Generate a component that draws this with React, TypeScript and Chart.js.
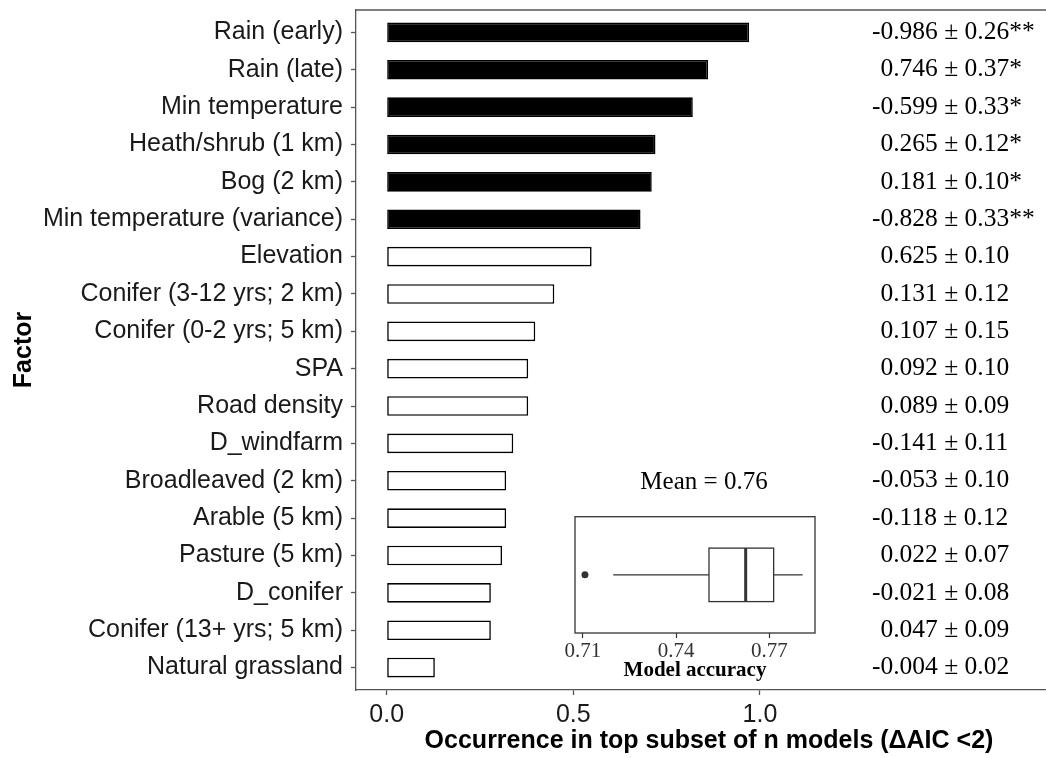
import React, { useEffect, useRef } from "react";
import { Chart, registerables } from "chart.js";

Chart.register(...registerables);

// ---------- Data ----------
const factors = [
  "Rain (early)",
  "Rain (late)",
  "Min temperature",
  "Heath/shrub (1 km)",
  "Bog (2 km)",
  "Min temperature (variance)",
  "Elevation",
  "Conifer (3-12 yrs; 2 km)",
  "Conifer (0-2 yrs; 5 km)",
  "SPA",
  "Road density",
  "D_windfarm",
  "Broadleaved (2 km)",
  "Arable (5 km)",
  "Pasture (5 km)",
  "D_conifer",
  "Conifer (13+ yrs; 5 km)",
  "Natural grassland",
];

const occurrence = [
  0.971, 0.861, 0.82, 0.72, 0.71, 0.68, 0.549, 0.449, 0.398, 0.379, 0.379,
  0.339, 0.32, 0.32, 0.309, 0.279, 0.279, 0.129,
];

const coefLabels = [
  "-0.986 ± 0.26**",
  "0.746 ± 0.37*",
  "-0.599 ± 0.33*",
  "0.265 ± 0.12*",
  "0.181 ± 0.10*",
  "-0.828 ± 0.33**",
  "0.625 ± 0.10",
  "0.131 ± 0.12",
  "0.107 ± 0.15",
  "0.092 ± 0.10",
  "0.089 ± 0.09",
  "-0.141 ± 0.11",
  "-0.053 ± 0.10",
  "-0.118 ± 0.12",
  "0.022 ± 0.07",
  "-0.021 ± 0.08",
  "0.047 ± 0.09",
  "-0.004 ± 0.02",
];

const xTicks = [0, 0.5, 1.0];

// Inset: model accuracy box plot  [lower whisker, Q1, median, Q3, upper whisker]
const accuracyStats = [0.7198, 0.7506, 0.7624, 0.7714, 0.7807];
const accuracyOutliers = [0.7107];
const accuracyTicks = [0.71, 0.74, 0.77];
const accuracyMean = 0.76;

// ---------- Styles ----------
const SANS = "'Liberation Sans', Arial, sans-serif";
const SERIF = "'Liberation Serif', 'Times New Roman', serif";
const AXIS_GREY = "#555555";

export default function App() {
  const mainRef = useRef<HTMLCanvasElement | null>(null);
  const insetRef = useRef<HTMLCanvasElement | null>(null);

  useEffect(() => {
    if (!mainRef.current || !insetRef.current) return;

    const framePlugin = {
      id: "frameTop",
      afterDraw(chart: any) {
        const { ctx, chartArea } = chart;
        ctx.save();
        ctx.strokeStyle = AXIS_GREY;
        ctx.lineWidth = 1.3;
        ctx.beginPath();
        ctx.moveTo(chartArea.left, chartArea.top);
        ctx.lineTo(chartArea.right, chartArea.top);
        ctx.stroke();
        ctx.restore();
      },
    };

    const coefPlugin = {
      id: "coefText",
      afterDatasetsDraw(chart: any) {
        const { ctx } = chart;
        const xs = chart.scales.x;
        const ys = chart.scales.y;
        ctx.save();
        ctx.font = `25.5px ${SERIF}`;
        ctx.fillStyle = "#000";
        ctx.textBaseline = "middle";
        ctx.textAlign = "left";
        const dashW = ctx.measureText("-").width;
        const x0 = xs.getPixelForValue(1.3);
        coefLabels.forEach((t, i) => {
          const y = ys.getPixelForValue(i);
          const x = t.startsWith("-") ? x0 : x0 + dashW;
          ctx.fillText(t, x, y);
        });
        ctx.restore();
      },
    };

    const main = new Chart(mainRef.current, {
      type: "bar",
      data: {
        datasets: [
          {
            data: occurrence.map((v, i) => ({ x: v, y: i })) as any,
            backgroundColor: coefLabels.map((c) => (c.includes("*") ? "#000000" : "#ffffff")),
            borderColor: "#000000",
            borderWidth: 1.6,
            borderSkipped: false,
            barPercentage: 0.525,
            categoryPercentage: 1,
          } as any,
        ],
      },
      options: {
        indexAxis: "y",
        animation: false,
        responsive: false,
        devicePixelRatio: 1,
        layout: { padding: { top: 10, left: 0, right: 0, bottom: 0 } },
        plugins: {
          legend: { display: false },
          tooltip: { enabled: false },
        },
        scales: {
          x: {
            type: "linear",
            offset: false,
            min: -0.0822,
            max: 1.809,
            afterBuildTicks: (s: any) => {
              s.ticks = xTicks.map((v) => ({ value: v }));
            },
            afterFit: (s: any) => {
              s.height = 68;
              s.paddingLeft = 0;
              s.paddingRight = 0;
            },
            ticks: {
              callback: (v: any) => Number(v).toFixed(1),
              font: { family: SANS, size: 25 },
              color: "#1a1a1a",
              padding: 5,
              maxRotation: 0,
              autoSkip: false,
            },
            grid: {
              display: true,
              offset: false,
              drawOnChartArea: false,
              drawTicks: true,
              tickLength: 5,
              tickColor: AXIS_GREY,
              tickWidth: 1.3,
            },
            border: { display: true, color: AXIS_GREY, width: 1.3 },
            title: {
              display: true,
              text: "Occurrence in top subset of n models (ΔAIC <2)",
              font: { family: SANS, size: 25, weight: "bold" },
              color: "#000",
              padding: { top: 0, bottom: 2 },
            },
          },
          y: {
            type: "linear",
            offset: false,
            reverse: true,
            min: -0.6,
            max: factors.length - 0.4,
            afterBuildTicks: (s: any) => {
              s.ticks = factors.map((_, i) => ({ value: i }));
            },
            afterFit: (s: any) => {
              s.width = 356;
              s.paddingTop = 0;
              s.paddingBottom = 0;
            },
            ticks: {
              callback: (v: any) => factors[Number(v)] ?? "",
              font: { family: SANS, size: 25 },
              color: "#1a1a1a",
              padding: 8,
              autoSkip: false,
            },
            grid: {
              display: true,
              offset: false,
              drawOnChartArea: false,
              drawTicks: true,
              tickLength: 5,
              tickColor: AXIS_GREY,
              tickWidth: 1.3,
            },
            border: { display: true, color: AXIS_GREY, width: 1.3 },
            title: {
              display: true,
              text: "Factor",
              font: { family: SANS, size: 25, weight: "bold" },
              color: "#000",
              padding: { top: 9, bottom: 0 },
            },
          },
        },
      } as any,
      plugins: [framePlugin, coefPlugin],
    });

    const boxPlugin = {
      id: "boxplot",
      beforeDatasetsDraw(chart: any) {
        const { ctx, chartArea } = chart;
        const xs = chart.scales.x;
        const ys = chart.scales.y;
        const [lw, q1, med, q3, uw] = accuracyStats;
        const yc = ys.getPixelForValue(0.5);
        const yTop = ys.getPixelForValue(0.73);
        const yBot = ys.getPixelForValue(0.27);
        ctx.save();
        // panel border
        ctx.strokeStyle = "#333333";
        ctx.lineWidth = 1.3;
        ctx.strokeRect(chartArea.left, chartArea.top, chartArea.right - chartArea.left, chartArea.bottom - chartArea.top);
        // whiskers
        ctx.beginPath();
        ctx.moveTo(xs.getPixelForValue(lw), yc);
        ctx.lineTo(xs.getPixelForValue(q1), yc);
        ctx.moveTo(xs.getPixelForValue(q3), yc);
        ctx.lineTo(xs.getPixelForValue(uw), yc);
        ctx.stroke();
        // box
        const bx = xs.getPixelForValue(q1);
        const bw = xs.getPixelForValue(q3) - bx;
        ctx.fillStyle = "#ffffff";
        ctx.fillRect(bx, yTop, bw, yBot - yTop);
        ctx.strokeRect(bx, yTop, bw, yBot - yTop);
        // median
        ctx.lineWidth = 3;
        ctx.beginPath();
        ctx.moveTo(xs.getPixelForValue(med), yTop);
        ctx.lineTo(xs.getPixelForValue(med), yBot);
        ctx.stroke();
        ctx.restore();
      },
      afterDraw(chart: any) {
        const { ctx } = chart;
        ctx.save();
        ctx.font = `25px ${SERIF}`;
        ctx.fillStyle = "#000";
        ctx.textAlign = "center";
        ctx.textBaseline = "middle";
        ctx.fillText(`Mean = ${accuracyMean.toFixed(2)}`, chart.width / 2, 20);
        ctx.restore();
      },
    };

    const inset = new Chart(insetRef.current, {
      type: "scatter",
      data: {
        datasets: [
          {
            data: accuracyOutliers.map((v) => ({ x: v, y: 0.5 })),
            pointRadius: 3.5,
            pointBackgroundColor: "#333333",
            pointBorderWidth: 0,
            pointBorderColor: "#333333",
          } as any,
        ],
      },
      options: {
        animation: false,
        responsive: false,
        devicePixelRatio: 1,
        layout: { padding: { left: 15, right: 33, top: 54.7, bottom: 0 } },
        plugins: {
          legend: { display: false },
          tooltip: { enabled: false },
        },
        scales: {
          x: {
            type: "linear",
            min: 0.7075,
            max: 0.7847,
            afterBuildTicks: (s: any) => {
              s.ticks = accuracyTicks.map((v) => ({ value: v }));
            },
            afterFit: (s: any) => {
              s.height = 54;
              s.paddingLeft = 0;
              s.paddingRight = 0;
            },
            ticks: {
              callback: (v: any) => Number(v).toFixed(2),
              font: { family: SERIF, size: 21 },
              color: "#333333",
              padding: 1,
              maxRotation: 0,
              autoSkip: false,
            },
            grid: {
              display: true,
              drawOnChartArea: false,
              drawTicks: true,
              tickLength: 5,
              tickColor: "#333333",
              tickWidth: 1.2,
            },
            border: { display: false },
            title: {
              display: true,
              text: "Model accuracy",
              font: { family: SERIF, size: 21, weight: "bold" },
              color: "#000",
              padding: { top: 0, bottom: 4 },
            },
          },
          y: { type: "linear", min: 0, max: 1, display: false },
        },
      } as any,
      plugins: [boxPlugin],
    });

    return () => {
      main.destroy();
      inset.destroy();
    };
  }, []);

  return (
    <div
      style={{
        position: "absolute",
        left: 0,
        top: 0,
        width: 1046,
        height: 758,
        overflow: "hidden",
        background: "#ffffff",
      }}
    >
      <canvas ref={mainRef} width={1062} height={758} style={{ position: "absolute", left: 0, top: 0 }} />
      <canvas ref={insetRef} width={288} height={225} style={{ position: "absolute", left: 560, top: 462 }} />
    </div>
  );
}
